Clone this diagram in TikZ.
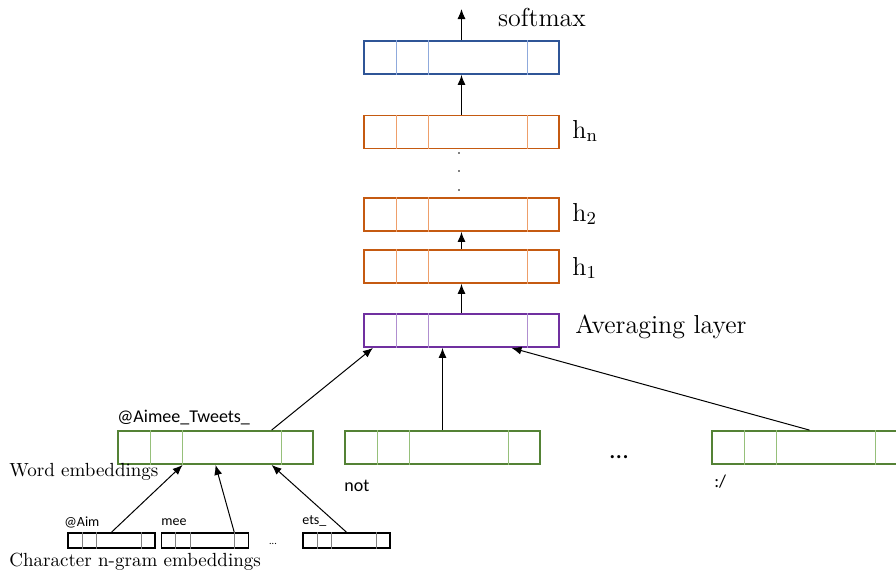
\documentclass[tikz,border=0pt]{standalone}
\usepackage{fontspec}
\newfontfamily\lblsans{Carlito}
\usetikzlibrary{calc,arrows.meta}
\definecolor{smblue}{HTML}{2F5597}
\definecolor{smbluel}{HTML}{8FAADC}
\definecolor{hidor}{HTML}{C55A11}
\definecolor{hidorl}{HTML}{EE9F6A}
\definecolor{avpur}{HTML}{7030A0}
\definecolor{avpurl}{HTML}{B08FD0}
\definecolor{wdgrn}{HTML}{548235}
\definecolor{wdgrnl}{HTML}{96C07A}
\tikzset{vec/.append style={draw,rectangle,minimum width=97.5pt,minimum height=16.5pt,inner sep=0pt,line width=0.9pt}}
\tikzset{cvec/.append style={draw,rectangle,minimum width=43.5pt,minimum height=7.5pt,inner sep=0pt,line width=0.8pt}}
\tikzset{arr/.append style={-{Latex[length=5pt,width=4pt]},line width=0.5pt}}
\tikzset{big/.append style={font=\fontsize{13}{15}\selectfont,inner sep=0pt}}
\tikzset{sml/.append style={font=\fontsize{9.5}{11}\selectfont,inner sep=0pt}}
\tikzset{wlb/.append style={font=\lblsans\fontsize{9}{11}\selectfont,inner sep=0pt}}
\tikzset{clb/.append style={font=\lblsans\fontsize{7}{8}\selectfont,inner sep=0pt}}
\newcommand{\splitvec}[2]{%
  \foreach \f in {0.169,0.333,0.836}
    \draw[#2,line width=0.5pt] ($(#1.north west)!\f!(#1.north east)$) -- ($(#1.south west)!\f!(#1.south east)$);}

\begin{document}
\begin{tikzpicture}[x=0.5pt,y=-0.5pt]
                \useasboundingbox (0,0) rectangle (896,574);
                % layers
                \node[vec,draw=smblue] (sm) at (461.5,57.5) {};
                \node[vec,draw=hidor] (hn) at (461.5,132) {};
                \node[vec,draw=hidor] (h2) at (461.5,214.5) {};
                \node[vec,draw=hidor] (h1) at (461.5,266.5) {};
                \node[vec,draw=avpur] (avg) at (461.5,330.5) {};
                \node[vec,draw=wdgrn] (w1) at (215.5,447.5) {};
                \node[vec,draw=wdgrn] (w2) at (442.5,447.5) {};
                \node[vec,draw=wdgrn] (w3) at (809.5,447.5) {};
                \node[cvec] (c1) at (111.5,540.5) {};
                \node[cvec] (c2) at (205,540.5) {};
                \node[cvec] (c3) at (346.5,540.5) {};
                \splitvec{sm}{smbluel}
                \splitvec{hn}{hidorl}
                \splitvec{h2}{hidorl}
                \splitvec{h1}{hidorl}
                \splitvec{avg}{avpurl}
                \splitvec{w1}{wdgrnl}
                \splitvec{w2}{wdgrnl}
                \splitvec{w3}{wdgrnl}
                \splitvec{c1}{gray}
                \splitvec{c2}{gray}
                \splitvec{c3}{gray}
                \foreach \y in {153,171,190} \fill (459,\y) circle (0.45pt);
                % labels
                \node[big] (lsm) at (542,17) {softmax};
                \node[big,anchor=west] (lhn) at (572,131) {$\mathrm{h_n}$};
                \node[big,anchor=west] (lh2) at (572,214) {$\mathrm{h_2}$};
                \node[big,anchor=west] (lh1) at (572,268) {$\mathrm{h_1}$};
                \node[big,anchor=west] (lavg) at (575,327) {Averaging layer};
                \node[sml,anchor=west] (lwe) at (9,472) {Word embeddings};
                \node[sml,anchor=west] (lce) at (9,562) {Character n-gram embeddings};
                \node[wlb,anchor=west] (lw1) at (117,418) {@Aimee\_Tweets\_};
                \node[wlb,anchor=west] (lw2) at (344,486) {not};
                \node[wlb,anchor=west] (lw3) at (714,482) {:/};
                \node[wlb,font=\lblsans\fontsize{13}{15}\selectfont] (wdots) at (619,457) {...};
                \node[clb,anchor=west] (lc1) at (64,522) {@Aim};
                \node[clb,anchor=west] (lc2) at (161,522) {mee};
                \node[clb,anchor=west] (lc3) at (302,521) {ets\_};
                \node[clb,font=\lblsans\fontsize{5}{6}\selectfont] (cdots) at (273,544) {...};
                \coordinate (out) at (461.5,9);
                % connectors
                \path (sm.north) edge[arr] (out);
                \path (hn.north) edge[arr] (sm.south);
                \path (h1.north) edge[arr] (h2.south);
                \path (avg.north) edge[arr] (h1.south);
                \path ($(w1.north west)!0.785!(w1.north east)$) edge[arr] ($(avg.south west)!0.05!(avg.south east)$);
                \path (w2.north) edge[arr] (w2.north |- avg.south);
                \path (w3.north) edge[arr] ($(avg.south west)!0.754!(avg.south east)$);
                \path (c1.north) edge[arr] ($(w1.south west)!0.333!(w1.south east)$);
                \path ($(c2.north west)!0.83!(c2.north east)$) edge[arr] (w1.south);
                \path (c3.north) edge[arr] ($(w1.south west)!0.785!(w1.south east)$);
            \end{tikzpicture}
\end{document}
